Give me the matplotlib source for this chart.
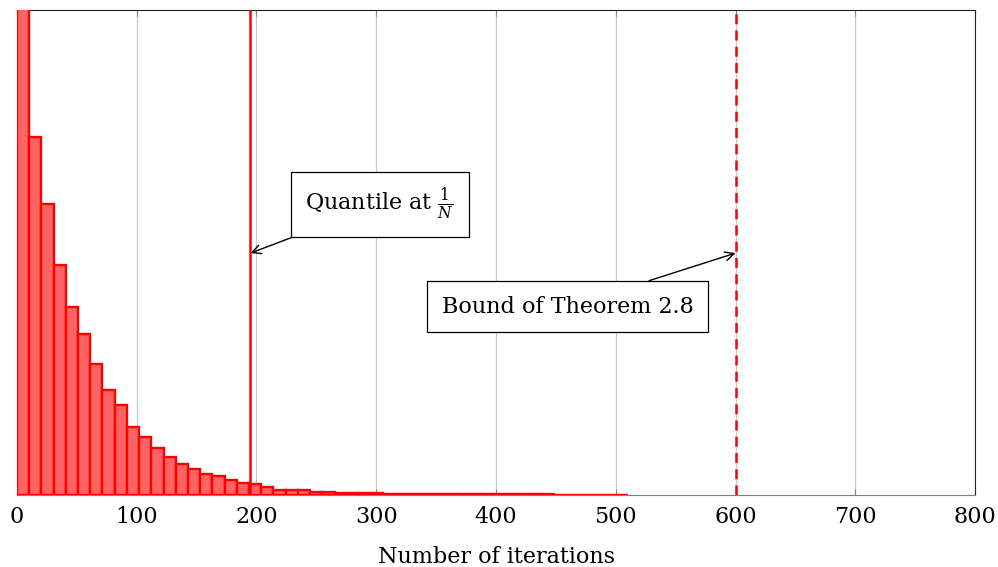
import numpy as np
import matplotlib
matplotlib.use('Agg')
import matplotlib.pyplot as plt

plt.rcParams['font.family'] = ['DejaVu Serif']
plt.rcParams['mathtext.fontset'] = 'dejavuserif'

# histogram counts, 50 bins over 0..510 iterations
counts = [5600, 3580, 2910, 2300, 1880, 1610, 1310, 1050, 900, 680,
          580, 470, 380, 315, 260, 215, 185, 145, 115, 105,
          75, 50, 45, 45, 30, 30, 20, 20, 15, 15,
          12, 12, 10, 10, 8, 8, 8, 6, 6, 6,
          5, 5, 5, 5, 4, 4, 4, 4, 3, 3]
max_iter = 510
quantile = 195
bound = 600
xticks = [0, 100, 200, 300, 400, 500, 600, 700, 800]

edges = np.linspace(0, max_iter, len(counts) + 1)
width = edges[1] - edges[0]

fig = plt.figure(figsize=(9.98, 5.67), dpi=100)
ax = fig.add_axes([0.017, 0.127, 0.96, 0.855])

ax.bar(edges[:-1], counts, width=width, align='edge',
       color='#ff6464', edgecolor='red', linewidth=1.7, zorder=3)

ax.axvline(quantile, color='red', lw=1.8, zorder=4)
ax.axvline(bound, color='red', lw=1.8, ls=(0, (4, 2.5)), zorder=4)

ax.set_xlim(0, 800)
ax.set_ylim(0, 4850)
ax.set_xticks(xticks)
ax.set_yticks([])
ax.grid(axis='x', color='#c8c8c8', lw=0.9, zorder=0)
ax.tick_params(axis='x', direction='in', top=True, length=4, color='#888888',
               labelsize=16, pad=8)
for s in ['left', 'bottom']:
    ax.spines[s].set_color('#808080')
for s in ['top', 'right']:
    ax.spines[s].set_color('#222222')
ax.set_xlabel('Number of iterations', fontsize=16, labelpad=13)

box = dict(boxstyle='square,pad=0.65', fc='white', ec='black', lw=0.9)
arr = dict(arrowstyle='->', color='black', lw=1.0, shrinkA=0, shrinkB=0)
ax.annotate(r'Quantile at $\frac{1}{N}$', xy=(quantile, 2420), xytext=(303, 2910),
            fontsize=16, ha='center', va='center', bbox=box, arrowprops=arr, zorder=6)
ax.annotate('Bound of Theorem 2.8', xy=(bound, 2420), xytext=(460, 1885),
            fontsize=16, ha='center', va='center', bbox=box, arrowprops=arr, zorder=6)

fig.savefig('out.png', dpi=100)
